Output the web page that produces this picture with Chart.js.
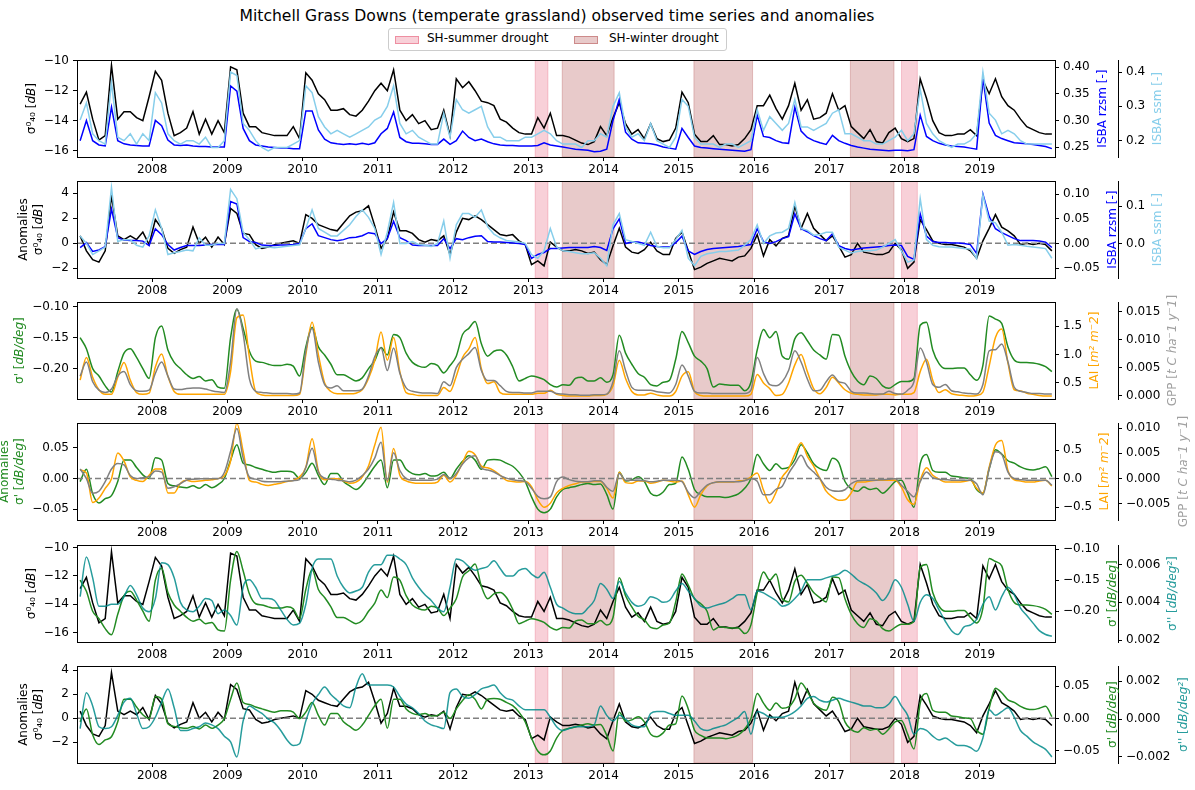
<!DOCTYPE html>
<html>
<head>
<meta charset="utf-8">
<script src="https://cdn.jsdelivr.net/npm/chart.js@4.4.1/dist/chart.umd.min.js"></script>
<style>
  body { margin: 0; background: #fff; width: 1195px; height: 790px; position: relative; overflow: hidden; font-family: "DejaVu Sans", sans-serif; }
  canvas { position: absolute; left: 0; }
  #title { position: absolute; left: 0; width: 1114px; top: 7px; text-align: center; font-size: 15.6px; color: #000; }
  #legend { position: absolute; left: 388px; top: 28px; width: 337px; height: 21px; border: 1px solid #ccc; border-radius: 3px; background: rgba(255,255,255,0.8); }
  .patch { position: absolute; top: 7px; width: 24px; height: 8px; box-sizing: border-box; }
  .ltext { position: absolute; top: 2px; font-size: 12px; color: #000; white-space: nowrap; }
</style>
</head>
<body>
<div id="title">Mitchell Grass Downs (temperate grassland) observed time series and anomalies</div>
<div id="legend">
  <div class="patch" style="left:6px;background:rgba(220,20,60,0.2);border:1px solid rgba(220,20,60,0.35)"></div>
  <div class="ltext" style="left:38px">SH-summer drought</div>
  <div class="patch" style="left:185px;background:rgba(165,42,42,0.25);border:1px solid rgba(165,42,42,0.4)"></div>
  <div class="ltext" style="left:220px">SH-winter drought</div>
</div>
<canvas id="p0" width="1195" height="128"></canvas>
<canvas id="p1" width="1195" height="128"></canvas>
<canvas id="p2" width="1195" height="128"></canvas>
<canvas id="p3" width="1195" height="128"></canvas>
<canvas id="p4" width="1195" height="128"></canvas>
<canvas id="p5" width="1195" height="128"></canvas>
<script>
// monthly series, Jan 2007 .. Dec 2019, one row per year
const years = [2007, 2008, 2009, 2010, 2011, 2012, 2013, 2014, 2015, 2016, 2017, 2018, 2019];
const yearTicks = [2008, 2009, 2010, 2011, 2012, 2013, 2014, 2015, 2016, 2017, 2018, 2019];

// drought periods (decimal years)
const summerDrought = [[2013.09, 2013.26], [2017.96, 2018.17]];
const winterDrought = [[2013.45, 2014.14], [2015.20, 2015.98], [2017.28, 2017.86]];

// backscatter sigma0_40 [dB]
const sig40 = [
  -12.9, -12.1, -13.9, -15.3, -15.0, -10.3, -13.9, -13.4, -13.4, -13.8, -14.0, -12.4,
  -10.7, -11.3, -13.5, -15.0, -14.8, -14.5, -13.4, -14.9, -13.9, -14.9, -14.0, -14.8,
  -10.4, -10.6, -13.5, -14.4, -14.4, -14.8, -14.9, -15.0, -15.0, -15.0, -14.4, -15.2,
  -10.8, -11.3, -12.2, -12.6, -13.3, -13.3, -13.2, -13.6, -13.7, -13.3, -12.7, -12.0,
  -11.5, -12.0, -10.6, -13.3, -14.0, -13.6, -14.2, -14.0, -14.6, -14.5, -13.3, -15.0,
  -11.2, -11.8, -11.4, -12.0, -12.7, -12.8, -13.0, -13.9, -14.1, -14.5, -14.8, -14.9,
  -14.9, -13.8, -14.5, -13.5, -15.0, -15.0, -15.1, -15.3, -15.5, -15.6, -15.4, -14.4,
  -15.0, -13.8, -12.8, -14.2, -14.9, -14.6, -15.2, -14.2, -15.2, -15.4, -15.3, -14.5,
  -12.1, -12.8, -14.9, -15.4, -15.4, -15.0, -15.6, -15.6, -15.7, -15.6, -15.2, -14.6,
  -13.0, -13.0, -12.3, -13.2, -13.9, -13.0, -11.5, -13.3, -12.6, -13.9, -13.8, -13.5,
  -12.2, -13.3, -13.0, -14.4, -14.8, -15.2, -14.6, -15.4, -15.5, -14.8, -14.5, -15.2,
  -15.4, -15.2, -11.2, -12.5, -14.0, -14.8, -15.0, -15.0, -14.9, -14.9, -14.6, -15.0,
  -11.3, -12.2, -11.2, -12.4, -13.0, -13.3, -13.9, -14.4, -14.6, -14.8, -14.9, -14.9
];
// ISBA root-zone soil moisture [-]
const rzsm = [
  0.262, 0.300, 0.262, 0.254, 0.252, 0.325, 0.262, 0.256, 0.254, 0.253, 0.252, 0.252,
  0.300, 0.290, 0.263, 0.254, 0.253, 0.254, 0.252, 0.251, 0.251, 0.250, 0.250, 0.250,
  0.365, 0.355, 0.285, 0.262, 0.254, 0.252, 0.250, 0.249, 0.248, 0.248, 0.247, 0.247,
  0.318, 0.318, 0.282, 0.265, 0.258, 0.256, 0.255, 0.256, 0.255, 0.257, 0.255, 0.258,
  0.275, 0.285, 0.316, 0.268, 0.260, 0.257, 0.257, 0.256, 0.255, 0.255, 0.265, 0.255,
  0.262, 0.280, 0.268, 0.262, 0.265, 0.260, 0.256, 0.254, 0.253, 0.253, 0.252, 0.252,
  0.252, 0.253, 0.258, 0.254, 0.252, 0.250, 0.248, 0.246, 0.245, 0.244, 0.241, 0.242,
  0.246, 0.300, 0.340, 0.278, 0.265, 0.258, 0.257, 0.256, 0.254, 0.250, 0.248, 0.246,
  0.285, 0.268, 0.252, 0.249, 0.248, 0.247, 0.246, 0.245, 0.244, 0.243, 0.242, 0.245,
  0.310, 0.270, 0.268, 0.262, 0.258, 0.257, 0.325, 0.280, 0.268, 0.262, 0.258, 0.255,
  0.272, 0.262, 0.257, 0.253, 0.250, 0.248, 0.246, 0.245, 0.244, 0.243, 0.244, 0.244,
  0.243, 0.245, 0.310, 0.270, 0.262, 0.257, 0.254, 0.252, 0.251, 0.250, 0.248, 0.246,
  0.380, 0.295, 0.272, 0.266, 0.262, 0.258, 0.257, 0.256, 0.255, 0.253, 0.251, 0.247
];
// ISBA surface soil moisture [-]
const ssm = [
  0.26, 0.31, 0.22, 0.20, 0.19, 0.37, 0.21, 0.20, 0.22, 0.19, 0.22, 0.20,
  0.34, 0.31, 0.22, 0.20, 0.19, 0.20, 0.20, 0.19, 0.21, 0.18, 0.18, 0.20,
  0.40, 0.39, 0.25, 0.23, 0.20, 0.18, 0.17, 0.18, 0.18, 0.18, 0.19, 0.20,
  0.36, 0.34, 0.27, 0.24, 0.22, 0.23, 0.22, 0.21, 0.22, 0.23, 0.24, 0.26,
  0.27, 0.30, 0.36, 0.25, 0.22, 0.23, 0.21, 0.20, 0.19, 0.19, 0.28, 0.21,
  0.32, 0.29, 0.28, 0.29, 0.30, 0.24, 0.21, 0.21, 0.20, 0.20, 0.20, 0.21,
  0.21, 0.22, 0.23, 0.22, 0.20, 0.19, 0.19, 0.19, 0.18, 0.20, 0.20, 0.22,
  0.21, 0.30, 0.34, 0.24, 0.21, 0.22, 0.20, 0.25, 0.20, 0.19, 0.18, 0.21,
  0.32, 0.30, 0.21, 0.19, 0.19, 0.19, 0.18, 0.19, 0.19, 0.18, 0.19, 0.20,
  0.29, 0.23, 0.27, 0.25, 0.23, 0.25, 0.32, 0.24, 0.24, 0.23, 0.24, 0.25,
  0.28, 0.29, 0.22, 0.22, 0.21, 0.20, 0.20, 0.19, 0.19, 0.20, 0.21, 0.23,
  0.20, 0.22, 0.35, 0.25, 0.22, 0.20, 0.19, 0.18, 0.19, 0.19, 0.20, 0.22,
  0.40, 0.28, 0.26, 0.22, 0.23, 0.22, 0.20, 0.19, 0.19, 0.19, 0.19, 0.19
];
// anomalies of the three series above
const sig40Anom = [
  0.6, -0.6, -1.3, -1.5, -0.6, 3.8, 0.6, 0.3, 0.6, 0.3, 0.9, -0.1,
  1.9, 1.2, -0.4, -0.8, -0.5, -0.3, 1.3, 0.0, 0.5, -0.3, 0.5, -0.1,
  2.8, 2.4, 0.8, 0.7, -0.1, -0.4, -0.3, -0.1, 0.0, 0.1, 0.2, 0.0,
  2.3, 2.0, 1.5, 1.3, 1.1, 1.0, 1.6, 2.2, 2.5, 2.6, 3.0, 1.4,
  -0.4, 0.4, 2.5, 1.0, 1.0, 0.8, 0.3, 0.1, 0.3, 0.2, 0.6, -0.9,
  0.9, 2.0, 1.9, 2.2, 1.9, 1.5, 1.1, 0.7, 0.6, 0.7, 0.2, -0.1,
  -1.7, -1.4, -1.8, 0.1, -0.3, -0.6, -0.6, -0.5, -0.6, -0.8, -0.7, -1.3,
  -1.7, -0.2, 1.2, -0.3, -0.7, -0.8, -0.5, 0.1, -0.6, -0.9, -0.9, 0.4,
  0.9, -0.6, -2.1, -1.9, -1.6, -1.4, -1.2, -1.3, -1.4, -1.1, -1.0, -0.4,
  0.7, -1.0, 0.3, -0.2, 0.4, 0.6, 3.0, 1.2, 2.4, 1.2, 0.7, 0.2,
  0.6, -0.2, -1.1, -0.9, 0.0, -0.7, -0.8, -0.9, -0.9, -0.7, 0.0, -0.5,
  -2.0, -1.5, 1.9, 1.1, 0.2, 0.0, -0.1, -0.1, -0.2, -0.3, -0.6, -1.2,
  0.2, 1.2, 2.3, 1.3, 1.0, 0.6, -0.1, 0.0, -0.1, 0.0, -0.1, -0.6
];
const rzsmAnom = [
  -0.008, 0.002, -0.016, -0.013, -0.006, 0.070, 0.012, 0.007, 0.006, 0.006, 0.005, -0.004,
  0.030, 0.018, -0.002, -0.013, -0.008, -0.004, -0.004, -0.004, -0.003, -0.002, -0.002, -0.002,
  0.085, 0.080, 0.012, 0.004, 0.002, -0.003, -0.004, -0.004, -0.003, -0.003, -0.002, 0.000,
  0.030, 0.040, 0.016, 0.012, 0.008, 0.006, 0.008, 0.012, 0.013, 0.016, 0.022, 0.020,
  0.000, 0.010, 0.045, 0.012, 0.006, -0.003, -0.004, -0.004, -0.004, -0.004, 0.010, -0.010,
  0.010, 0.008, 0.012, 0.015, 0.016, 0.004, 0.003, 0.003, 0.002, 0.001, 0.000, -0.002,
  -0.030, -0.022, -0.018, -0.010, -0.010, -0.009, -0.008, -0.008, -0.008, -0.008, -0.006, -0.008,
  -0.014, 0.030, 0.050, 0.000, 0.003, 0.003, 0.000, -0.004, -0.006, -0.007, -0.007, 0.002,
  0.015, -0.015, -0.022, -0.016, -0.012, -0.010, -0.009, -0.008, -0.007, -0.006, -0.004, -0.002,
  0.030, 0.004, 0.000, 0.004, 0.010, 0.014, 0.060, 0.030, 0.024, 0.016, 0.010, 0.006,
  0.020, -0.004, -0.010, -0.013, -0.011, -0.009, -0.008, -0.007, -0.006, -0.004, -0.003, -0.004,
  -0.026, -0.032, 0.060, 0.015, 0.004, 0.002, 0.002, 0.001, 0.001, 0.000, -0.002, -0.020,
  0.100, 0.055, 0.030, 0.022, 0.016, 0.010, 0.006, 0.006, 0.006, 0.005, 0.003, -0.008
];
const ssmAnom = [
  0.020, 0.000, -0.030, -0.020, -0.010, 0.150, 0.005, 0.010, 0.010, -0.005, -0.010, 0.020,
  0.090, 0.040, -0.030, -0.025, -0.022, -0.018, -0.020, 0.015, -0.005, -0.005, 0.000, 0.000,
  0.145, 0.120, 0.030, 0.010, -0.015, -0.010, -0.010, -0.012, -0.010, -0.008, -0.006, -0.004,
  0.040, 0.090, 0.040, 0.030, 0.020, 0.020, 0.035, 0.050, 0.072, 0.090, 0.070, 0.040,
  -0.030, 0.030, 0.110, 0.000, 0.000, 0.005, -0.003, -0.005, -0.008, 0.000, 0.060, -0.040,
  0.050, 0.080, 0.080, 0.070, 0.090, 0.045, 0.025, 0.015, 0.008, 0.006, 0.004, 0.000,
  -0.030, -0.040, -0.020, 0.040, -0.010, -0.020, -0.022, -0.025, -0.028, -0.028, -0.025, -0.040,
  -0.060, 0.050, 0.080, 0.010, 0.005, 0.000, -0.005, 0.030, -0.008, -0.012, -0.012, 0.010,
  0.035, -0.040, -0.060, -0.035, -0.028, -0.025, -0.022, -0.022, -0.020, -0.018, -0.005, 0.010,
  0.050, 0.000, 0.020, 0.028, 0.030, 0.040, 0.110, 0.040, 0.035, 0.022, 0.024, 0.030,
  0.030, -0.010, -0.018, -0.026, -0.022, -0.020, -0.020, -0.018, -0.010, 0.000, 0.010, -0.020,
  -0.050, -0.045, 0.120, 0.010, -0.005, -0.009, -0.010, -0.010, -0.012, -0.014, -0.015, -0.040,
  0.130, 0.060, 0.055, 0.030, -0.005, -0.003, -0.005, -0.008, -0.010, -0.012, -0.014, -0.040
];
// backscatter slope sigma' [dB/deg]
const slope = [
  -0.150, -0.168, -0.200, -0.212, -0.228, -0.238, -0.205, -0.175, -0.168, -0.182, -0.200, -0.216,
  -0.150, -0.131, -0.170, -0.190, -0.200, -0.210, -0.216, -0.213, -0.220, -0.218, -0.230, -0.232,
  -0.150, -0.104, -0.135, -0.172, -0.188, -0.190, -0.193, -0.195, -0.195, -0.193, -0.196, -0.212,
  -0.165, -0.133, -0.165, -0.178, -0.193, -0.210, -0.210, -0.215, -0.220, -0.215, -0.200, -0.187,
  -0.166, -0.178, -0.145, -0.150, -0.175, -0.190, -0.196, -0.198, -0.192, -0.195, -0.207, -0.195,
  -0.180, -0.145, -0.135, -0.124, -0.160, -0.180, -0.172, -0.170, -0.178, -0.197, -0.220, -0.216,
  -0.212, -0.214, -0.218, -0.226, -0.230, -0.226, -0.227, -0.216, -0.214, -0.220, -0.220, -0.215,
  -0.222, -0.210, -0.146, -0.175, -0.193, -0.208, -0.214, -0.226, -0.228, -0.222, -0.219, -0.185,
  -0.140, -0.158, -0.180, -0.188, -0.200, -0.230, -0.225, -0.226, -0.227, -0.227, -0.236, -0.222,
  -0.170, -0.137, -0.150, -0.140, -0.180, -0.185, -0.152, -0.142, -0.155, -0.170, -0.178, -0.185,
  -0.145, -0.146, -0.180, -0.205, -0.220, -0.226, -0.212, -0.216, -0.228, -0.232, -0.226, -0.221,
  -0.221, -0.216, -0.130, -0.125, -0.170, -0.192, -0.200, -0.200, -0.199, -0.199, -0.210, -0.219,
  -0.195, -0.115, -0.120, -0.127, -0.165, -0.186, -0.190, -0.190, -0.191, -0.193, -0.197, -0.205
];
// leaf area index [m2 m-2]
const lai = [
  0.55, 0.95, 0.60, 0.38, 0.30, 0.30, 0.60, 0.86, 0.55, 0.33, 0.30, 0.32,
  0.78, 1.01, 0.62, 0.35, 0.30, 0.30, 0.30, 0.30, 0.30, 0.30, 0.30, 0.30,
  0.70, 1.65, 1.70, 0.95, 0.35, 0.29, 0.28, 0.28, 0.28, 0.28, 0.28, 0.30,
  1.00, 1.57, 1.00, 0.50, 0.35, 0.31, 0.31, 0.31, 0.32, 0.38, 0.58, 0.90,
  1.40, 0.90, 1.30, 0.70, 0.33, 0.30, 0.28, 0.28, 0.28, 0.28, 0.42, 0.35,
  0.62, 0.95, 1.10, 1.30, 0.75, 0.49, 0.52, 0.33, 0.30, 0.30, 0.30, 0.30,
  0.30, 0.32, 0.32, 0.37, 0.30, 0.28, 0.27, 0.27, 0.27, 0.27, 0.28, 0.28,
  0.30, 0.45, 0.90, 0.58, 0.35, 0.29, 0.29, 0.32, 0.29, 0.27, 0.27, 0.35,
  0.62, 0.70, 0.35, 0.28, 0.27, 0.27, 0.27, 0.27, 0.27, 0.27, 0.27, 0.30,
  0.65, 0.50, 0.40, 0.28, 0.30, 0.50, 0.82, 1.00, 0.70, 0.40, 0.31, 0.42,
  0.60, 0.50, 0.38, 0.32, 0.30, 0.29, 0.29, 0.29, 0.30, 0.30, 0.29, 0.30,
  0.30, 0.33, 0.70, 0.92, 0.55, 0.33, 0.38, 0.31, 0.29, 0.28, 0.27, 0.28,
  0.34, 0.80, 1.30, 1.45, 0.85, 0.38, 0.36, 0.32, 0.30, 0.28, 0.27, 0.27
];
// gross primary production [t C ha-1 y-1]
const gpp = [
  0.0035, 0.0060, 0.0025, 0.0010, 0.0006, 0.0012, 0.0035, 0.0043, 0.0020, 0.0009, 0.0008, 0.0010,
  0.0040, 0.0060, 0.0035, 0.0012, 0.0011, 0.0013, 0.0014, 0.0014, 0.0012, 0.0009, 0.0007, 0.0006,
  0.0060, 0.0155, 0.0110, 0.0030, 0.0008, 0.0006, 0.0005, 0.0004, 0.0004, 0.0004, 0.0003, 0.0005,
  0.0080, 0.0120, 0.0060, 0.0020, 0.0014, 0.0018, 0.0009, 0.0009, 0.0009, 0.0012, 0.0035, 0.0070,
  0.0085, 0.0045, 0.0085, 0.0040, 0.0014, 0.0008, 0.0006, 0.0005, 0.0005, 0.0004, 0.0025, 0.0018,
  0.0050, 0.0065, 0.0075, 0.0086, 0.0045, 0.0027, 0.0027, 0.0018, 0.0008, 0.0006, 0.0006, 0.0005,
  0.0005, 0.0008, 0.0008, 0.0008, 0.0004, 0.0003, 0.0002, 0.0002, 0.0001, 0.0001, 0.0002, 0.0002,
  0.0003, 0.0025, 0.0080, 0.0045, 0.0015, 0.0010, 0.0010, 0.0010, 0.0007, 0.0006, 0.0005, 0.0020,
  0.0055, 0.0035, 0.0008, 0.0005, 0.0005, 0.0004, 0.0004, 0.0004, 0.0004, 0.0004, 0.0004, 0.0010,
  0.0068, 0.0040, 0.0020, 0.0018, 0.0025, 0.0045, 0.0080, 0.0060, 0.0030, 0.0009, 0.0010, 0.0025,
  0.0037, 0.0025, 0.0022, 0.0008, 0.0005, 0.0005, 0.0004, 0.0003, 0.0003, 0.0008, 0.0004, 0.0003,
  0.0010, 0.0025, 0.0085, 0.0060, 0.0020, 0.0015, 0.0020, 0.0009, 0.0007, 0.0005, 0.0004, 0.0003,
  0.0020, 0.0080, 0.0082, 0.0092, 0.0060, 0.0015, 0.0008, 0.0006, 0.0004, 0.0004, 0.0003, 0.0003
];
const slopeAnom = [
  -0.005, 0.015, -0.025, -0.040, -0.033, -0.028, -0.005, 0.030, 0.030, 0.018, 0.006, 0.000,
  0.034, 0.030, -0.008, -0.012, -0.014, -0.015, -0.012, -0.016, -0.010, -0.015, -0.010, 0.000,
  0.030, 0.055, 0.025, 0.022, 0.018, 0.015, 0.012, 0.010, 0.012, 0.012, 0.010, 0.000,
  0.010, 0.025, 0.005, -0.010, 0.008, 0.008, -0.005, -0.012, -0.018, -0.010, 0.005, 0.020,
  0.030, -0.015, 0.030, 0.030, 0.015, 0.008, 0.006, 0.008, 0.004, 0.005, 0.010, 0.000,
  0.015, 0.028, 0.037, 0.030, 0.015, 0.030, 0.031, 0.030, 0.025, 0.020, 0.010, -0.005,
  -0.030, -0.050, -0.056, -0.050, -0.030, -0.018, -0.015, -0.013, -0.010, -0.008, -0.010, -0.009,
  -0.026, -0.050, 0.010, -0.004, -0.002, 0.003, -0.005, -0.024, -0.028, -0.022, -0.010, -0.008,
  0.035, 0.015, -0.018, -0.026, -0.030, -0.030, -0.030, -0.031, -0.029, -0.025, -0.016, 0.000,
  0.039, 0.024, 0.013, 0.024, 0.016, 0.018, 0.031, 0.055, 0.042, 0.024, 0.016, 0.013,
  0.033, 0.026, -0.005, -0.017, -0.021, -0.014, -0.018, -0.016, -0.024, -0.016, -0.005, -0.003,
  -0.024, -0.047, 0.024, 0.039, 0.013, 0.010, 0.010, 0.004, 0.003, 0.001, 0.000, -0.018,
  -0.024, 0.016, 0.047, 0.040, 0.029, 0.025, 0.019, 0.015, 0.014, 0.016, 0.019, 0.003
];
const laiAnom = [
  0.15, 0.10, -0.42, -0.34, -0.17, 0.00, 0.45, 0.31, 0.03, -0.03, -0.05, 0.06,
  0.17, 0.17, -0.25, -0.25, -0.08, -0.03, -0.05, -0.04, -0.03, -0.02, 0.00, 0.05,
  0.31, 0.97, 0.48, -0.03, -0.06, -0.10, -0.12, -0.10, -0.08, -0.05, -0.03, 0.03,
  0.20, 0.70, 0.14, -0.02, 0.00, 0.00, -0.04, -0.08, -0.06, 0.03, 0.22, 0.59,
  0.90, -0.06, 0.53, 0.06, -0.04, -0.07, -0.08, -0.08, -0.08, -0.06, 0.06, -0.06,
  0.06, 0.28, 0.48, 0.42, 0.22, 0.19, 0.14, 0.06, -0.03, -0.05, -0.06, -0.05,
  -0.14, -0.37, -0.50, -0.43, -0.25, -0.17, -0.12, -0.09, -0.06, -0.06, -0.05, -0.05,
  -0.17, -0.34, 0.11, -0.07, -0.08, -0.04, -0.04, -0.08, -0.06, -0.03, -0.04, -0.06,
  -0.04, -0.28, -0.50, -0.28, -0.13, -0.07, -0.06, -0.06, -0.06, -0.04, -0.03, 0.03,
  0.10, -0.20, -0.43, -0.24, 0.03, 0.17, 0.43, 0.63, 0.39, 0.22, 0.00, -0.22,
  -0.32, -0.38, -0.37, -0.25, -0.06, -0.06, -0.04, -0.03, -0.03, -0.03, -0.03, -0.15,
  -0.37, -0.45, -0.03, 0.19, 0.06, -0.01, -0.06, -0.06, -0.06, -0.05, -0.03, -0.17,
  -0.25, 0.20, 0.59, 0.67, 0.14, -0.02, -0.04, -0.06, -0.06, -0.04, -0.03, -0.13
];
const gppAnom = [
  0.0019, 0.0000, -0.0029, -0.0025, -0.0006, 0.0019, 0.0030, 0.0027, 0.0006, 0.0000, 0.0002, 0.0004,
  0.0015, 0.0013, -0.0019, -0.0016, -0.0010, -0.0003, -0.0001, 0.0000, 0.0000, 0.0000, 0.0000, 0.0012,
  0.0054, 0.0099, 0.0041, 0.0003, -0.0001, -0.0005, -0.0006, -0.0006, -0.0006, -0.0005, -0.0004, -0.0002,
  0.0022, 0.0060, 0.0013, 0.0001, -0.0001, -0.0003, -0.0004, -0.0006, -0.0003, 0.0006, 0.0019, 0.0041,
  0.0072, -0.0004, 0.0051, 0.0016, 0.0000, -0.0003, -0.0003, -0.0003, -0.0003, -0.0001, 0.0008, 0.0000,
  0.0010, 0.0029, 0.0041, 0.0045, 0.0021, 0.0017, 0.0013, 0.0006, 0.0001, -0.0002, -0.0004, -0.0006,
  -0.0019, -0.0035, -0.0040, -0.0036, -0.0006, 0.0003, -0.0002, -0.0005, -0.0006, -0.0006, -0.0004, -0.0004,
  -0.0017, -0.0025, 0.0010, -0.0003, -0.0003, -0.0003, -0.0004, -0.0006, -0.0005, -0.0003, -0.0003, -0.0003,
  -0.0006, -0.0027, -0.0038, -0.0025, -0.0013, -0.0008, -0.0006, -0.0006, -0.0006, -0.0006, -0.0004, 0.0000,
  -0.0005, -0.0032, -0.0032, -0.0021, -0.0015, 0.0010, 0.0029, 0.0046, 0.0025, 0.0013, 0.0000, -0.0017,
  -0.0024, -0.0025, -0.0022, -0.0010, -0.0004, -0.0003, -0.0003, -0.0003, -0.0002, -0.0001, 0.0000, -0.0013,
  -0.0025, -0.0036, -0.0006, 0.0013, 0.0002, -0.0001, -0.0002, -0.0003, -0.0003, -0.0003, -0.0003, -0.0010,
  -0.0032, 0.0019, 0.0053, 0.0048, 0.0013, 0.0000, -0.0002, -0.0003, -0.0003, -0.0003, -0.0003, -0.0013
];
// backscatter curvature sigma'' [dB/deg2]
const curv = [
  0.0043, 0.0064, 0.0053, 0.0038, 0.0038, 0.0039, 0.0039, 0.0043, 0.0049, 0.0044, 0.0037, 0.0035,
  0.0042, 0.0061, 0.0060, 0.0053, 0.0040, 0.0036, 0.0035, 0.0038, 0.0042, 0.0041, 0.0034, 0.0036,
  0.0033, 0.0028, 0.0048, 0.0052, 0.0048, 0.0042, 0.0042, 0.0041, 0.0036, 0.0031, 0.0028, 0.0029,
  0.0039, 0.0058, 0.0063, 0.0063, 0.0063, 0.0054, 0.0048, 0.0045, 0.0046, 0.0048, 0.0056, 0.0060,
  0.0060, 0.0065, 0.0065, 0.0063, 0.0060, 0.0053, 0.0048, 0.0044, 0.0041, 0.0037, 0.0035, 0.0048,
  0.0063, 0.0062, 0.0059, 0.0057, 0.0058, 0.0059, 0.0062, 0.0058, 0.0054, 0.0054, 0.0057, 0.0058,
  0.0055, 0.0053, 0.0056, 0.0048, 0.0039, 0.0037, 0.0035, 0.0034, 0.0034, 0.0037, 0.0041, 0.0050,
  0.0047, 0.0042, 0.0051, 0.0045, 0.0040, 0.0038, 0.0039, 0.0043, 0.0042, 0.0040, 0.0041, 0.0046,
  0.0050, 0.0046, 0.0042, 0.0038, 0.0037, 0.0038, 0.0039, 0.0040, 0.0042, 0.0044, 0.0044, 0.0036,
  0.0046, 0.0045, 0.0043, 0.0041, 0.0038, 0.0039, 0.0042, 0.0046, 0.0052, 0.0052, 0.0052, 0.0053,
  0.0054, 0.0055, 0.0057, 0.0055, 0.0052, 0.0050, 0.0048, 0.0045, 0.0041, 0.0045, 0.0052, 0.0048,
  0.0039, 0.0030, 0.0040, 0.0044, 0.0042, 0.0036, 0.0030, 0.0025, 0.0023, 0.0027, 0.0028, 0.0031,
  0.0039, 0.0043, 0.0036, 0.0043, 0.0048, 0.0044, 0.0037, 0.0033, 0.0029, 0.0025, 0.0023, 0.0022
];
const curvAnom = [
  -0.0005, 0.0014, 0.0007, -0.0004, -0.0005, -0.0004, 0.0002, 0.0009, 0.0011, 0.0003, -0.0005, -0.0004,
  0.0001, 0.0009, 0.0016, 0.0006, -0.0006, -0.0006, -0.0005, -0.0004, -0.0002, -0.0003, -0.0005, -0.0009,
  -0.0012, -0.0020, -0.0001, 0.0007, 0.0005, 0.0003, 0.0000, -0.0002, -0.0006, -0.0011, -0.0014, -0.0013,
  -0.0001, 0.0008, 0.0013, 0.0017, 0.0013, 0.0010, 0.0007, 0.0006, 0.0017, 0.0024, 0.0018, 0.0018,
  0.0018, 0.0018, 0.0017, 0.0012, 0.0008, 0.0006, 0.0003, -0.0001, -0.0003, -0.0004, -0.0005, 0.0014,
  0.0016, 0.0012, 0.0011, 0.0013, 0.0016, 0.0017, 0.0018, 0.0014, 0.0011, 0.0010, 0.0007, 0.0005,
  0.0005, 0.0005, 0.0005, 0.0001, -0.0004, -0.0006, -0.0005, -0.0004, -0.0004, -0.0004, -0.0003, 0.0007,
  0.0002, -0.0001, 0.0002, 0.0000, -0.0003, -0.0004, -0.0004, 0.0003, 0.0004, 0.0004, 0.0003, 0.0002,
  0.0002, 0.0002, -0.0001, -0.0005, -0.0006, -0.0005, -0.0004, -0.0003, -0.0001, 0.0001, 0.0004, -0.0008,
  0.0004, 0.0003, 0.0001, 0.0001, 0.0001, 0.0002, 0.0004, 0.0007, 0.0011, 0.0012, 0.0010, 0.0009,
  0.0010, 0.0011, 0.0010, 0.0009, 0.0008, 0.0007, 0.0007, 0.0006, 0.0006, 0.0008, 0.0012, 0.0007,
  0.0002, -0.0008, -0.0005, -0.0006, -0.0009, -0.0011, -0.0010, -0.0012, -0.0014, -0.0014, -0.0015, -0.0017,
  -0.0010, 0.0005, 0.0002, 0.0004, 0.0006, 0.0001, -0.0006, -0.0009, -0.0012, -0.0014, -0.0016, -0.0020
];

// month mid-points as decimal years
const t = [];
years.forEach(y => { for (let m = 0; m < 12; m++) t.push(y + (m + 0.5) / 12); });

const BLACK = '#000000', BLUE = '#0000ff', SKY = '#87ceeb', GREEN = '#228b22',
      ORANGE = '#ffa500', GREY = '#808080', TEAL = 'rgba(0,139,139,0.85)';

const FRAME_L = 77, FRAME_R = 1055, SPINE2 = 1118, PAD_TOP = 8, XAXIS_H = 20;
const frameTops = [57, 178, 299, 420, 542, 663];

Chart.defaults.font.family = "'DejaVu Sans', sans-serif";
Chart.defaults.font.size = 12;
Chart.defaults.color = '#000';

// axis labels, [text, italic] pieces
const L_SIG = [['σ⁰₄₀ [', 0], ['dB', 1], [']', 0]];
const L_ANOM = [['Anomalies', 0]];
const L_SLOPE = [["σ' [", 0], ['dB/deg', 1], [']', 0]];
const L_CURV = [["σ'' [", 0], ['dB/deg²', 1], [']', 0]];
const L_LAI = [['LAI [', 0], ['m² m⁻2', 1], [']', 0]];
const L_GPP = [['GPP [', 0], ['t C ha⁻1 y⁻1', 1], [']', 0]];
const L_RZSM = [['ISBA rzsm [-]', 0]];
const L_SSM = [['ISBA ssm [-]', 0]];

const panels = [
  { left: { range: [-16.43, -9.96], ticks: [-16, -14, -12, -10], dec: 0, title: [L_SIG], color: BLACK },
    r1: { range: [0.2313, 0.4133], ticks: [0.25, 0.30, 0.35, 0.40], dec: 2, title: L_RZSM, color: BLUE },
    r2: { range: [0.1523, 0.4346], ticks: [0.2, 0.3, 0.4], dec: 1, title: L_SSM, color: SKY },
    lines: [[ssm, 'r2', SKY, 0], [rzsm, 'r1', BLUE, 0], [sig40, 'y', BLACK, 0]], zero: false },
  { left: { range: [-2.77, 4.97], ticks: [-2, 0, 2, 4], dec: 0, title: [L_ANOM, L_SIG], color: BLACK },
    r1: { range: [-0.0695, 0.126], ticks: [-0.05, 0, 0.05, 0.10], dec: 2, title: L_RZSM, color: BLUE },
    r2: { range: [-0.093, 0.167], ticks: [0, 0.1], dec: 1, title: L_SSM, color: SKY },
    lines: [[ssmAnom, 'r2', SKY, 0], [rzsmAnom, 'r1', BLUE, 0], [sig40Anom, 'y', BLACK, 0]], zero: true },
  { left: { range: [-0.2492, -0.0927], ticks: [-0.20, -0.15, -0.10], dec: 2, title: [L_SLOPE], color: GREEN },
    r1: { range: [0.2175, 1.924], ticks: [0.5, 1.0, 1.5], dec: 1, title: L_LAI, color: ORANGE },
    r2: { range: [-0.00057, 0.01665], ticks: [0, 0.005, 0.010, 0.015], dec: 3, title: L_GPP, color: '#a0a0a0' },
    lines: [[gpp, 'r2', GREY, 1], [lai, 'r1', ORANGE, 1], [slope, 'y', GREEN, 1]], zero: false },
  { left: { range: [-0.0678, 0.0903], ticks: [-0.05, 0, 0.05], dec: 2, title: [L_ANOM, L_SLOPE], color: GREEN },
    r1: { range: [-0.725, 0.972], ticks: [-0.5, 0, 0.5], dec: 1, title: L_LAI, color: ORANGE },
    r2: { range: [-0.00818, 0.01096], ticks: [-0.005, 0, 0.005, 0.010], dec: 3, title: L_GPP, color: '#a0a0a0' },
    lines: [[gppAnom, 'r2', GREY, 1], [laiAnom, 'r1', ORANGE, 1], [slopeAnom, 'y', GREEN, 1]], zero: true },
  { left: { range: [-16.65, -9.84], ticks: [-16, -14, -12, -10], dec: 0, title: [L_SIG], color: BLACK },
    r1: { range: [-0.2495, -0.0938], ticks: [-0.20, -0.15, -0.10], dec: 2, title: L_SLOPE, color: GREEN },
    r2: { range: [0.0019, 0.00703], ticks: [0.002, 0.004, 0.006], dec: 3, title: L_CURV, color: TEAL },
    lines: [[curv, 'r2', TEAL, 1], [slope, 'r1', GREEN, 1], [sig40, 'y', BLACK, 0]], zero: false },
  { left: { range: [-3.72, 4.34], ticks: [-2, 0, 2, 4], dec: 0, title: [L_ANOM, L_SIG], color: BLACK },
    r1: { range: [-0.0686, 0.081], ticks: [-0.05, 0, 0.05], dec: 2, title: L_SLOPE, color: GREEN },
    r2: { range: [-0.00232, 0.0028], ticks: [-0.002, 0, 0.002], dec: 3, title: L_CURV, color: TEAL },
    lines: [[curvAnom, 'r2', TEAL, 1], [slopeAnom, 'r1', GREEN, 1], [sig40Anom, 'y', BLACK, 0]], zero: true }
];

function fmt(v, dec) {
  const s = Math.abs(v).toFixed(dec);
  return (v < -1e-12 ? '\u2212' : '') + s;
}

function tickWidth(ctx, ax) {
  ctx.font = '12px "DejaVu Sans"';
  return Math.max(...ax.ticks.map(v => ctx.measureText(fmt(v, ax.dec)).width));
}

function drawLabel(ctx, segs, cx, cy, color) {
  ctx.save();
  ctx.translate(cx, cy);
  ctx.rotate(-Math.PI / 2);
  ctx.fillStyle = color;
  ctx.textBaseline = 'middle';
  ctx.textAlign = 'left';
  const fonts = segs.map(s => (s[1] ? 'italic ' : '') + '12px "DejaVu Sans"');
  let total = 0;
  const ws = segs.map((s, i) => { ctx.font = fonts[i]; const w = ctx.measureText(s[0]).width; total += w; return w; });
  let x = -total / 2;
  segs.forEach((s, i) => { ctx.font = fonts[i]; ctx.fillText(s[0], x, 0); x += ws[i]; });
  ctx.restore();
}

const decor = {
  id: 'decor',
  beforeDatasetsDraw(chart) {
    const { ctx, chartArea: a, scales: { x } } = chart;
    ctx.save();
    ctx.beginPath();
    ctx.rect(a.left, a.top, a.right - a.left, a.bottom - a.top);
    ctx.clip();
    const band = (list, fill) => list.forEach(([s, e]) => {
      const x0 = x.getPixelForValue(s), x1 = x.getPixelForValue(e);
      ctx.fillStyle = fill;
      ctx.fillRect(x0, a.top, x1 - x0, a.bottom - a.top);
      ctx.strokeStyle = fill;
      ctx.lineWidth = 1;
      ctx.strokeRect(x0, a.top, x1 - x0, a.bottom - a.top);
    });
    band(summerDrought, 'rgba(220,20,60,0.2)');
    band(winterDrought, 'rgba(165,42,42,0.25)');
    ctx.restore();
  },
  afterDraw(chart, args, opts) {
    const { ctx, chartArea: a } = chart;
    const p = opts.panel;
    ctx.save();
    ctx.strokeStyle = '#000';
    ctx.lineWidth = 1;
    ctx.strokeRect(Math.round(a.left) + 0.5, Math.round(a.top) + 0.5, Math.round(a.right - a.left), Math.round(a.bottom - a.top));
    ctx.restore();
    const cy = (a.top + a.bottom) / 2;
    // left label (one or two lines)
    const lw = tickWidth(ctx, p.left);
    let cx = FRAME_L - 8 - lw - 5 - 7;
    for (let i = p.left.title.length - 1; i >= 0; i--) {
      drawLabel(ctx, p.left.title[i], cx, cy, p.left.color);
      cx -= 15;
    }
    drawLabel(ctx, p.r1.title, FRAME_R + 8 + tickWidth(ctx, p.r1) + 5 + 8, cy, p.r1.color);
    drawLabel(ctx, p.r2.title, SPINE2 + 8 + tickWidth(ctx, p.r2) + 5 + 8, cy, p.r2.color);
  }
};

function yAxis(pos, ax, width) {
  return {
    type: 'linear', position: pos, min: ax.range[0], max: ax.range[1],
    afterBuildTicks: s => { s.ticks = ax.ticks.map(v => ({ value: v })); },
    afterFit: s => { s.width = width; },
    ticks: { callback: v => fmt(v, ax.dec), padding: 4, color: '#000', font: { size: 12 } },
    grid: { drawOnChartArea: false, drawTicks: true, tickLength: 4, tickColor: '#000', tickWidth: 1 },
    border: { display: true, color: '#000', width: 1 }
  };
}

panels.forEach((p, i) => {
  const canvas = document.getElementById('p' + i);
  canvas.style.top = (frameTops[i] - PAD_TOP) + 'px';
  const datasets = p.lines.map(([vals, axis, color, smooth]) => ({
    data: vals.map((v, k) => ({ x: t[k], y: v })),
    yAxisID: axis,
    borderColor: color,
    borderWidth: 1.5,
    pointRadius: 0,
    fill: false,
    tension: 0,
    cubicInterpolationMode: smooth ? 'monotone' : 'default'
  }));
  if (p.zero) {
    // dashed zero reference on the main axis, above the main series
    datasets.splice(datasets.length - 1, 0, {
      data: [{ x: 2007, y: 0 }, { x: 2020, y: 0 }],
      yAxisID: 'y', borderColor: GREY, borderWidth: 1.5, borderDash: [6, 3], pointRadius: 0, fill: false
    });
  }
  new Chart(canvas, {
    type: 'line',
    data: { datasets },
    options: {
      responsive: false, animation: false, devicePixelRatio: 1, events: [],
      parsing: false,
      layout: { padding: { top: PAD_TOP, left: 0, right: 0, bottom: 0 }, autoPadding: false },
      plugins: { legend: { display: false }, tooltip: { enabled: false }, decor: { panel: p } },
      scales: {
        x: {
          type: 'linear', position: 'bottom', min: 2007, max: 2020,
          afterBuildTicks: s => { s.ticks = yearTicks.map(v => ({ value: v })); },
          afterFit: s => { s.height = XAXIS_H; },
          ticks: { callback: v => String(v), padding: 2, maxRotation: 0, autoSkip: false, color: '#000', font: { size: 12 } },
          grid: { drawOnChartArea: false, drawTicks: true, tickLength: 4, tickColor: '#000', tickWidth: 1 },
          border: { display: true, color: '#000', width: 1 }
        },
        y: yAxis('left', p.left, FRAME_L),
        r1: yAxis('right', p.r1, SPINE2 - FRAME_R),
        r2: yAxis('right', p.r2, 1195 - SPINE2)
      }
    },
    plugins: [decor]
  });
});
</script>
</body>
</html>
